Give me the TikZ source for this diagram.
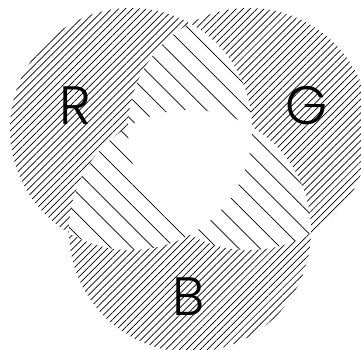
\documentclass[tikz,border=0pt]{standalone}
\usepackage{fontspec}
\usetikzlibrary{patterns.meta}
\newfontfamily\lblfont{Poppins Light}
\begin{document}
\begin{tikzpicture}[x=1pt,y=-1pt,
  dense/.style={pattern={Lines[angle=45,distance=4.9pt,line width=0.7pt]}},
  sparse/.style={pattern={Lines[angle=-45,distance=15pt,line width=0.7pt]}},
  lbl/.style={inner sep=0pt,font=\lblfont\fontsize{54}{54}\selectfont}]
\useasboundingbox (0,0) rectangle (361,349);
\fill[white] (0,0) rectangle (361,349);
\def\rad{121}
\coordinate (cR) at (131,129);
\coordinate (cG) at (249,129);
\coordinate (cB) at (190,231);
% single coverage
\fill[dense] (cR) circle (\rad);
\fill[dense] (cG) circle (\rad);
\fill[dense] (cB) circle (\rad);
% pairwise overlaps
\begin{scope}
  \clip (cR) circle (\rad);
  \fill[white] (cG) circle (\rad);
  \fill[sparse] (cG) circle (\rad);
\end{scope}
\begin{scope}
  \clip (cR) circle (\rad);
  \fill[white] (cB) circle (\rad);
  \fill[sparse] (cB) circle (\rad);
\end{scope}
\begin{scope}
  \clip (cG) circle (\rad);
  \fill[white] (cB) circle (\rad);
  \fill[sparse] (cB) circle (\rad);
\end{scope}
% triple overlap
\begin{scope}
  \clip (cR) circle (\rad);
  \clip (cG) circle (\rad);
  \fill[white] (cB) circle (\rad);
\end{scope}
\node[lbl] (R) at (75,106) {R};
\node[lbl] (G) at (307,106) {G};
\node[lbl] (B) at (189,297) {B};
\end{tikzpicture}
\end{document}
